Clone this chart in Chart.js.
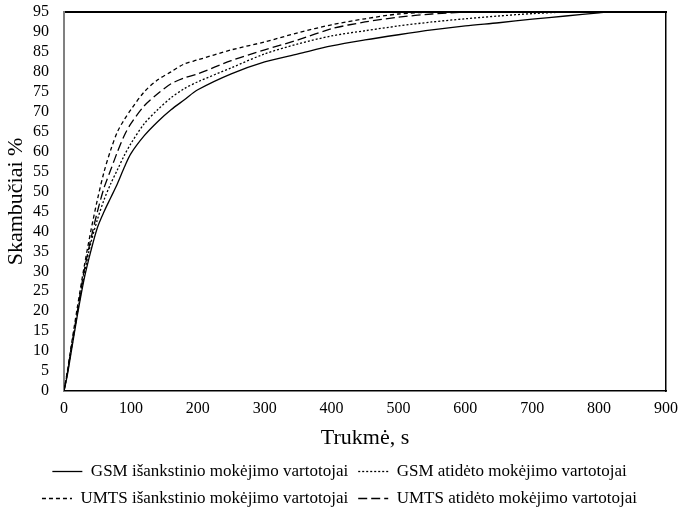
<!DOCTYPE html>
<html lang="lt">
<head>
  <meta charset="UTF-8">
  <title>Skambučių trukmė</title>
  <script src="https://cdn.jsdelivr.net/npm/chart.js"></script>
  <style>
    html, body { margin: 0; padding: 0; background: #fff; }
    #wrap { width: 679px; height: 517px; }
  </style>
</head>
<body>
  <div id="wrap"><canvas id="chart"></canvas></div>
  <script>
    // Trukmė, s (x reikšmės)
    const durations = [0, 5, 10, 20, 30, 40, 50, 60, 70, 80, 90, 100, 120, 140, 160, 180, 200, 250, 300, 350, 400, 450, 500, 550, 600, 650, 700, 750, 800, 810];
    // Skambučiai %, kaupiamasis
    const gsmPrepaid  = [0, 4, 9, 19, 28, 35, 41, 45, 48.5, 52, 56, 59.5, 64, 67.5, 70.5, 73, 75.5, 79.5, 82.5, 84.5, 86.5, 88, 89.3, 90.5, 91.5, 92.3, 93.2, 94, 94.8, 95];
    const gsmPostpaid = [0, 4.5, 9.5, 19.5, 29, 37, 43, 48, 52, 55.5, 59, 62, 67, 70.5, 73.5, 75.8, 77.5, 81, 84.5, 87, 89, 90.3, 91.5, 92.5, 93.3, 94, 94.6, 95, null, null];
    const umtsPrepaid = [0, 5, 10.5, 21, 31, 40, 48, 55, 60.5, 65, 68, 70.5, 75, 78, 80, 82, 83, 85.5, 87.5, 89.8, 91.8, 93.3, 94.5, 95, null, null, null, null, null, null];
    const umtsPostpaid = [0, 4.5, 10, 20, 30, 38, 45, 51, 55.5, 60, 64, 67, 71.5, 74.5, 77, 78.5, 79.5, 82.8, 85.5, 88, 90.8, 92.5, 93.7, 94.5, 95, null, null, null, null, null];

    const seriesNames = [
      'GSM išankstinio mokėjimo vartotojai',
      'GSM atidėto mokėjimo vartotojai',
      'UMTS išankstinio mokėjimo vartotojai',
      'UMTS atidėto mokėjimo vartotojai'
    ];
    const seriesValues = [gsmPrepaid, gsmPostpaid, umtsPrepaid, umtsPostpaid];
    const dashes = [[], [2, 2], [4, 3], [9, 4]];

    const font = 'Liberation Serif, Times New Roman, serif';

    const datasets = seriesValues.map((vals, i) => ({
      label: seriesNames[i],
      data: durations.map((t, j) => ({ x: t, y: vals[j] })),
      borderColor: '#000',
      backgroundColor: '#000',
      borderWidth: 1.3,
      borderDash: dashes[i],
      pointRadius: 0,
      tension: 0.3,
      spanGaps: false
    }));

    const noGrid = { display: false, drawTicks: false };

    new Chart(document.getElementById('chart'), {
      type: 'line',
      data: { datasets },
      options: {
        responsive: true,
        maintainAspectRatio: false,
        animation: false,
        layout: { padding: 0 },
        plugins: {
          tooltip: { enabled: false },
          legend: {
            position: 'bottom',
            labels: {
              color: '#000',
              font: { family: font, size: 17 },
              usePointStyle: true,
              pointStyle: 'line',
              pointStyleWidth: 30,
              padding: 10,
              generateLabels(chart) {
                const items = Chart.defaults.plugins.legend.labels.generateLabels(chart);
                items.forEach(it => {
                  const ds = chart.data.datasets[it.datasetIndex];
                  it.lineDash = ds.borderDash;
                  it.lineWidth = 1.3;
                  it.strokeStyle = '#000';
                });
                return items;
              }
            }
          }
        },
        scales: {
          x: {
            type: 'linear',
            min: 0, max: 900,
            grid: noGrid,
            border: { color: '#000', width: 1.5 },
            ticks: { stepSize: 100, color: '#000', padding: 8, autoSkip: false, maxRotation: 0, font: { family: font, size: 16 } },
            title: { display: true, text: 'Trukmė, s', color: '#000', font: { family: font, size: 22 }, padding: { top: 4, bottom: 2 } },
            afterFit(axis) {
              // less room on the right than Chart.js reserves for "900"
              axis.paddingRight = 13;
              axis.height = 62;
            }
          },
          x2: {
            type: 'linear', position: 'top', min: 0, max: 900,
            grid: noGrid,
            border: { color: '#000', width: 2 },
            ticks: { display: false }
          },
          y: {
            min: 0, max: 95,
            grid: noGrid,
            border: { color: '#808080', width: 2 },
            ticks: { stepSize: 5, color: '#000', padding: 15, autoSkip: false, font: { family: font, size: 16 } },
            title: { display: true, text: 'Skambučiai %', color: '#000', font: { family: font, size: 22 }, padding: { top: 3, bottom: 2 } },
            afterFit(axis) {
              axis.paddingTop = 12;
              axis.width = 64;
            }
          },
          y2: {
            position: 'right', min: 0, max: 95,
            grid: noGrid,
            border: { color: '#000', width: 1.5 },
            ticks: { display: false }
          }
        }
      }
    });
  </script>
</body>
</html>
